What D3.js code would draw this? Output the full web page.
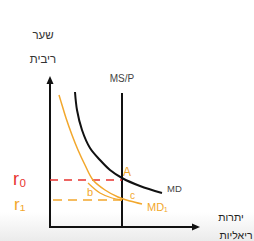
<!DOCTYPE html>
<meta charset="utf-8">
<head>
<title>Money market</title>
<script src="https://cdn.jsdelivr.net/npm/d3@7"></script>
<style>
  body { margin: 0; background: #fff; }
  .lbl { font-family: "Liberation Sans", "DejaVu Sans", sans-serif; }
</style>
</head>
<body>
<div id="chart"></div>
<script>
// curve points (quantity, rate)
var mdPoints = [[25,135],[27,117],[32,97],[40,79],[50,67],[60,57],[72,49],[90,41],[112,34]];
var md1Points = [[9,132],[12,122],[16,109],[22,92],[28,77],[35,62],[43,47],[55,37],[68,30],[80,26],[92,23]];
var msLevel = 72, msTop = 134;
var r0 = 47, r1 = 27;
var yTitle = ["שער", "ריבית"];
var xTitle = ["יתרות", "ריאליות"];

var width = 254, height = 241;
var svg = d3.select("#chart").append("svg")
    .attr("width", width).attr("height", height);

// faint grey at bottom like the screen capture
var grad = svg.append("defs").append("linearGradient")
    .attr("id", "bg").attr("x1", 0).attr("y1", 0).attr("x2", 0).attr("y2", 1);
grad.append("stop").attr("offset", "0%").attr("stop-color", "#ffffff");
grad.append("stop").attr("offset", "100%").attr("stop-color", "#ebebeb");
svg.append("rect").attr("width", width).attr("height", height).attr("fill", "#fff");
svg.append("rect").attr("y", 212).attr("width", width).attr("height", 29).attr("fill", "url(#bg)");

var x = d3.scaleLinear().domain([0, 150]).range([50, 200]);
var y = d3.scaleLinear().domain([0, 150]).range([227, 77]);

var line = d3.line().x(function(d){ return x(d[0]); }).y(function(d){ return y(d[1]); })
    .curve(d3.curveCatmullRom);

// axes
svg.append("line").attr("x1", x(0)).attr("y1", y(0)).attr("x2", x(0)).attr("y2", y(147))
    .attr("stroke", "#111").attr("stroke-width", 2);
svg.append("path").attr("d", "M" + x(0) + "," + (y(150)-1) + " l-3.5,8 l7,0 z").attr("fill", "#111");
svg.append("line").attr("x1", x(0) - 1).attr("y1", y(0)).attr("x2", x(146)).attr("y2", y(0))
    .attr("stroke", "#111").attr("stroke-width", 2);
svg.append("path").attr("d", "M" + (x(150)) + "," + y(0) + " l-8,-3.5 l0,7 z").attr("fill", "#111");

// MS/P
svg.append("line").attr("x1", x(msLevel)).attr("y1", y(0)).attr("x2", x(msLevel)).attr("y2", y(msTop))
    .attr("stroke", "#111").attr("stroke-width", 2);

// dashed rates
svg.append("line").attr("x1", x(0)).attr("x2", x(msLevel)).attr("y1", y(r0)).attr("y2", y(r0))
    .attr("stroke", "#e8332f").attr("stroke-width", 1.5).attr("stroke-dasharray", "8,6");
svg.append("line").attr("x1", x(0) + 3).attr("x2", x(msLevel)).attr("y1", y(r1)).attr("y2", y(r1))
    .attr("stroke", "#f2a72c").attr("stroke-width", 1.5).attr("stroke-dasharray", "9,6");

// MD and MD1
svg.append("path").attr("d", line(mdPoints)).attr("fill", "none")
    .attr("stroke", "#111").attr("stroke-width", 2);
svg.append("path").attr("d", line(md1Points)).attr("fill", "none")
    .attr("stroke", "#f2a72c").attr("stroke-width", 1.5);
// shift arrow scribble from B toward C
svg.append("path").attr("d", line([[38,44],[50,34],[62,29],[72,27]])).attr("fill", "none")
    .attr("stroke", "#f2a72c").attr("stroke-width", 1.3);

// labels
var t = svg.append("g").attr("class", "lbl");
t.append("text").attr("x", 43).attr("y", 39).attr("text-anchor", "middle")
    .attr("font-size", 11.5).attr("fill", "#333").text(yTitle[0]);
t.append("text").attr("x", 43).attr("y", 63).attr("text-anchor", "middle")
    .attr("font-size", 11.5).attr("fill", "#333").text(yTitle[1]);
t.append("text").attr("x", 231).attr("y", 221).attr("text-anchor", "middle")
    .attr("font-size", 10.5).attr("fill", "#222").text(xTitle[0]);
t.append("text").attr("x", 236).attr("y", 239).attr("text-anchor", "middle")
    .attr("font-size", 10.5).attr("fill", "#222").text(xTitle[1]);
t.append("text").attr("x", x(msLevel)).attr("y", 82).attr("text-anchor", "middle")
    .attr("font-size", 10).attr("fill", "#444").text("MS/P");
t.append("text").attr("x", 167).attr("y", 192)
    .attr("font-size", 9.5).attr("fill", "#444").text("MD");
t.append("text").attr("x", x(msLevel) + 1).attr("y", y(r0) - 4)
    .attr("font-size", 12).attr("fill", "#f2a72c").text("A");
t.append("text").attr("x", 87).attr("y", y(r1) - 4)
    .attr("font-size", 11).attr("fill", "#f2a72c").text("b");
t.append("text").attr("x", x(msLevel) + 8).attr("y", y(r1) - 1)
    .attr("font-size", 10).attr("fill", "#f2a72c").text("c");
t.append("text").attr("x", 147).attr("y", 211)
    .attr("font-size", 11).attr("fill", "#f2a72c").text("MD₁");
t.append("text").attr("x", 13).attr("y", y(r0) + 5)
    .attr("font-size", 18).attr("fill", "#e8332f").text("r₀");
t.append("text").attr("x", 14).attr("y", y(r1) + 10)
    .attr("font-size", 17).attr("fill", "#f2a72c").text("r₁");
</script>
</body>
</html>
